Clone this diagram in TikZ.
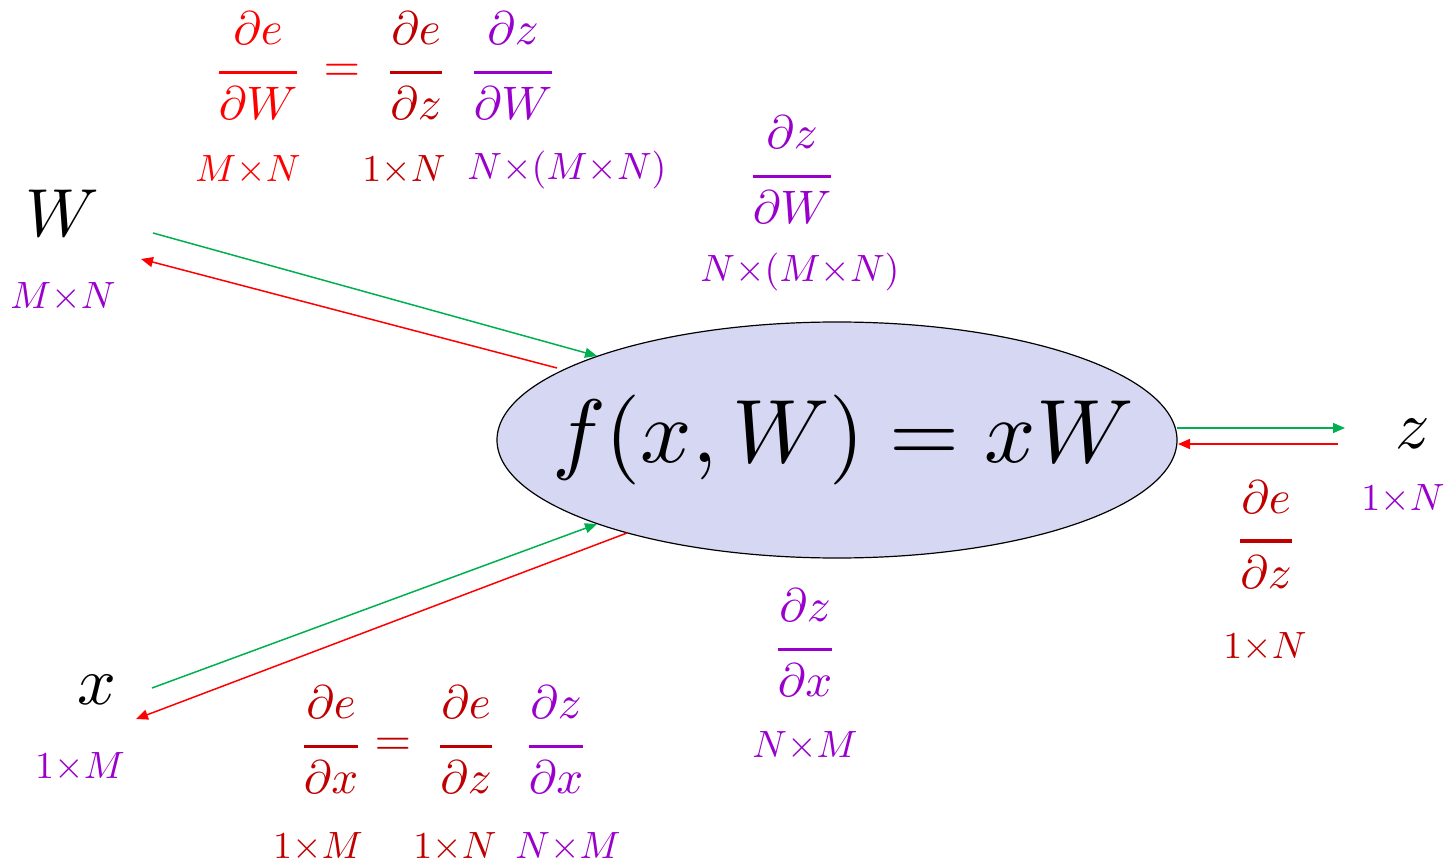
\documentclass[tikz,border=0pt]{standalone}
\usepackage{amsmath}
\usepackage{graphicx}
\usetikzlibrary{shapes.geometric,arrows.meta}
\definecolor{cred}{RGB}{255,0,0}
\definecolor{cdark}{RGB}{192,0,0}
\definecolor{cpur}{RGB}{153,0,204}
\definecolor{cgreen}{RGB}{0,176,80}
\definecolor{cfill}{RGB}{214,215,242}
\newcommand{\numr}[1]{\raisebox{1.7pt}{$#1$}}
\newcommand{\denr}[1]{\raisebox{-0.8pt}{$#1$}}
\newcommand{\myfrac}[2]{\scalebox{2.35}{$\genfrac{}{}{0.62pt}{0}{\numr{#1}}{\denr{#2}}$}}
\newcommand{\myfracb}[2]{\scalebox{2.35}{$\genfrac{}{}{0.85pt}{0}{\numr{#1}}{\denr{#2}}$}}
\newcommand{\myeq}{\scalebox{2.35}{$=$}}
\newcommand{\mydim}[1]{\scalebox{1.9}{$#1$}}
\newcommand{\myvar}[1]{\scalebox{3.4}{$#1$}}
\tikzset{
  var/.style={inner sep=0pt},
  dimlab/.style={inner sep=0pt},
  fraclab/.style={inner sep=0pt, anchor=base, yshift=-5.9pt},
  fwd/.style={draw=cgreen, line width=0.75pt, -{Triangle[length=6pt,width=5pt]}},
  bwd/.style={draw=cred, line width=0.75pt, -{Triangle[length=6pt,width=5pt]}},
}
\begin{document}
\begin{tikzpicture}[x=0.5pt,y=-0.5pt]
\useasboundingbox (0,0) rectangle (1451,866);
% ellipse
\node[ellipse, draw=black, line width=0.6pt, fill=cfill, minimum width=340pt, minimum height=118pt, inner sep=0pt] (f) at (837,440) {};
\node[inner sep=0pt] (ftext) at (843,440) {\scalebox{4.5}{$f(x,W) = xW$}};
% variables
\node[var] (W) at (62,213) {\myvar{W}};
\node[dimlab, text=cpur] (Wdim) at (63,297) {\mydim{M{\times}N}};
\node[var] (x) at (97,690) {\myvar{x}};
\node[dimlab, text=cpur] (xdim) at (80,767) {\mydim{1{\times}M}};
\node[var] (z) at (1413,434) {\myvar{z}};
\node[dimlab, text=cpur] (zdim) at (1403,499) {\mydim{1{\times}N}};
% connector endpoints
\coordinate (Wg) at (153,233);
\coordinate (fWg) at (597,356);
\coordinate (fWr) at (557,368);
\coordinate (Wr) at (141,259);
\coordinate (xg) at (152,688);
\coordinate (fxg) at (597,524);
\coordinate (fxr) at (627,533);
\coordinate (xr) at (136,719);
\coordinate (fzg) at (1177,428);
\coordinate (zg) at (1345,428);
\coordinate (zr) at (1338,444);
\coordinate (fzr) at (1178,444);
\draw[fwd] (Wg) -- (fWg);
\draw[bwd] (fWr) -- (Wr);
\draw[fwd] (xg) -- (fxg);
\draw[bwd] (fxr) -- (xr);
\draw[fwd] (fzg) -- (zg);
\draw[bwd] (zr) -- (fzr);
% top formula
\node[fraclab, text=cred] (t1) at (258,72) {\myfrac{\partial e}{\partial W}};
\node[fraclab, text=cred] (teq) at (342,70) {\myeq};
\node[fraclab, text=cdark] (t2) at (416,72) {\myfrac{\partial e}{\partial z}};
\node[fraclab, text=cpur] (t3) at (513,72) {\myfrac{\partial z}{\partial W}};
\node[dimlab, text=cred] (t1d) at (248,170) {\mydim{M{\times}N}};
\node[dimlab, text=cdark] (t2d) at (404,170) {\mydim{1{\times}N}};
\node[dimlab, text=cpur] (t3d) at (567,170) {\mydim{N{\times}(M{\times}N)}};
% middle top
\node[fraclab, text=cpur] (mW) at (792,176) {\myfrac{\partial z}{\partial W}};
\node[dimlab, text=cpur] (mWd) at (800,272) {\mydim{N{\times}(M{\times}N)}};
% middle bottom
\node[fraclab, text=cpur] (mx) at (805,649) {\myfrac{\partial z}{\partial x}};
\node[dimlab, text=cpur] (mxd) at (805,746) {\mydim{N{\times}M}};
% right
\node[fraclab, text=cdark] (rz) at (1266,541) {\myfracb{\partial e}{\partial z}};
\node[dimlab, text=cdark] (rzd) at (1265,647) {\mydim{1{\times}N}};
% bottom formula
\node[fraclab, text=cdark] (b1) at (331,746) {\myfrac{\partial e}{\partial x}};
\node[fraclab, text=cdark] (beq) at (393,744) {\myeq};
\node[fraclab, text=cdark] (b2) at (466,746) {\myfrac{\partial e}{\partial z}};
\node[fraclab, text=cpur] (b3) at (556,746) {\myfrac{\partial z}{\partial x}};
\node[dimlab, text=cdark] (b1d) at (318,847) {\mydim{1{\times}M}};
\node[dimlab, text=cdark] (b2d) at (455,847) {\mydim{1{\times}N}};
\node[dimlab, text=cpur] (b3d) at (568,847) {\mydim{N{\times}M}};
\end{tikzpicture}
\end{document}
